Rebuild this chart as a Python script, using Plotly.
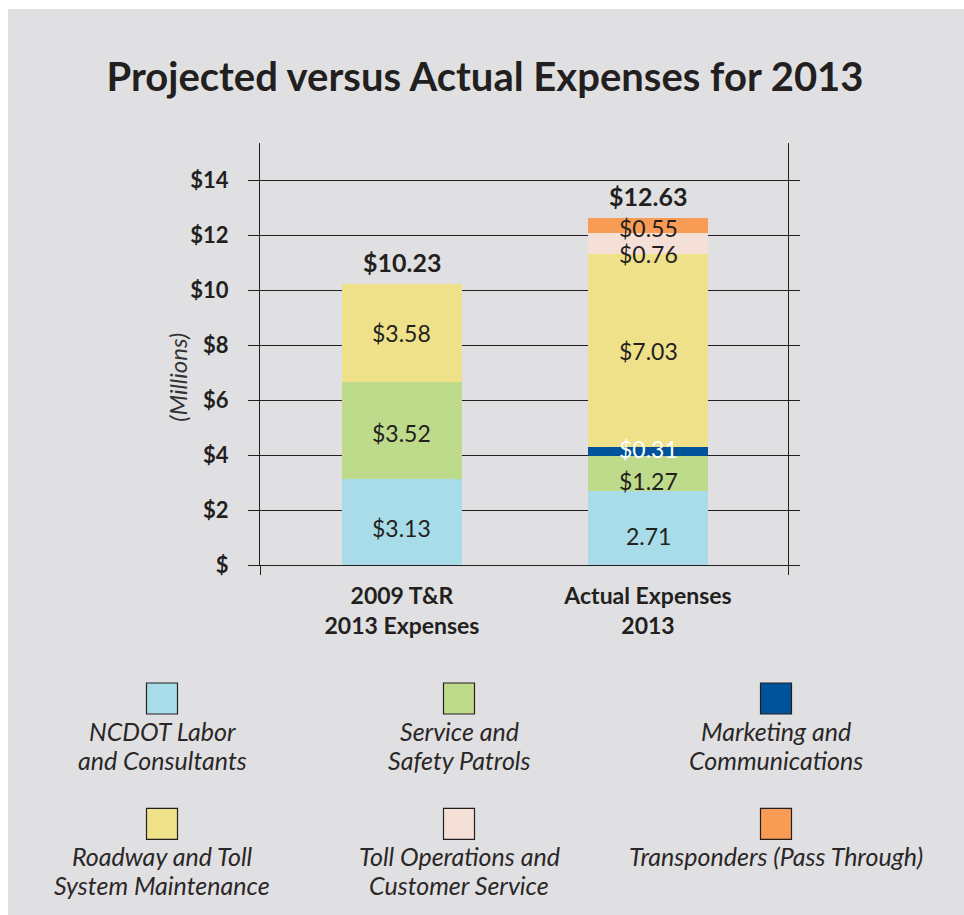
import plotly.graph_objects as go

# ---------------- data ----------------
bar_categories = ["2009 T&R<br>2013 Expenses", "Actual Expenses<br>2013"]
series_names = [
    "NCDOT Labor<br>and Consultants",
    "Service and<br>Safety Patrols",
    "Marketing and<br>Communications",
    "Roadway and Toll<br>System Maintenance",
    "Toll Operations and<br>Customer Service",
    "Transponders (Pass Through)",
]
projected_values = [3.13, 3.52, 0.0, 3.58, 0.0, 0.0]
actual_values = [2.71, 1.27, 0.31, 7.03, 0.76, 0.55]
projected_labels = ["$3.13", "$3.52", "", "$3.58", "", ""]
actual_labels = ["2.71", "$1.27", "$0.31", "$7.03", "$0.76", "$0.55"]
total_labels = ["$10.23", "$12.63"]
y_tick_values = [0, 2, 4, 6, 8, 10, 12, 14]
y_tick_labels = ["$", "$2", "$4", "$6", "$8", "$10", "$12", "$14"]

# ---------------- style ----------------
colors = ["#a7dce8", "#bedb8c", "#00529b", "#efe18a", "#f5e0d8", "#f89c55"]
label_colors = ["#231f20", "#231f20", "#ffffff", "#231f20", "#231f20", "#231f20"]
# small vertical nudges (px) of the segment labels, per series, per bar
label_nudge_projected = [-6, -2, 0, 0, 0, 0]
label_nudge_actual = [-8, -8, 3, 0, -10, -2]
INK = "#231f20"
BG = "#e0e0e2"
FONT = "Lato"
W = 964
REF_H = 915          # layout positions are expressed in these pixels
H = 930              # canvas height (the capture is squeezed to 915)
legend_col_x = [162, 459, 776]
legend_row_y = [697, 822]
legend_line_offset = 32
legend_line_step = 29

fig = go.Figure()

x_pos = [0, 1]
bases = [0.0, 0.0]
for i, name in enumerate(series_names):
    vals = [projected_values[i], actual_values[i]]
    labs = [projected_labels[i], actual_labels[i]]
    nudges = [label_nudge_projected[i], label_nudge_actual[i]]
    fig.add_trace(go.Bar(
        x=x_pos, y=vals,
        marker=dict(color=colors[i], line=dict(width=0)),
        width=0.488,
        name=name.replace("<br>", " "),
        showlegend=False,
        hoverinfo="skip",
    ))
    for b in range(2):
        if labs[b]:
            fig.add_annotation(x=x_pos[b], y=bases[b] + vals[b] / 2, xref="x", yref="y",
                               text=labs[b], showarrow=False, yanchor="middle",
                               yshift=nudges[b] * H / REF_H,
                               font=dict(family=FONT, size=23, color=label_colors[i]))
        bases[b] += vals[b]

# totals above bars
totals = [sum(projected_values), sum(actual_values)]
for xi, tot, lab in zip(x_pos, totals, total_labels):
    fig.add_annotation(x=xi, y=tot, xref="x", yref="y", text="<b>%s</b>" % lab,
                       showarrow=False, yanchor="bottom", yshift=5,
                       font=dict(family=FONT, size=25, color=INK))

# custom legend (squares above text)
for i, name in enumerate(series_names):
    cx = legend_col_x[i % 3]
    cy = legend_row_y[i // 3]
    fig.add_trace(go.Scatter(
        x=[cx], y=[cy], mode="markers",
        marker=dict(symbol="square", size=31, color=colors[i],
                    line=dict(color=INK, width=1.2)),
        xaxis="x2", yaxis="y2", showlegend=False, hoverinfo="skip",
    ))
    for j, line in enumerate(name.split("<br>")):
        fig.add_annotation(x=cx, y=cy + legend_line_offset + j * legend_line_step,
                           xref="x2", yref="y2",
                           text="<i>%s</i>" % line, showarrow=False,
                           yanchor="middle", xanchor="center",
                           font=dict(family=FONT, size=25, color="#2b2728"))

# background panel
fig.add_shape(type="rect", xref="paper", yref="paper",
              x0=8 / W, x1=1.01, y0=-0.02, y1=1 - 9 / REF_H,
              fillcolor=BG, line=dict(width=0), layer="below")

# y-axis title
fig.add_annotation(x=178 / W, y=1 - 377 / REF_H, xref="paper", yref="paper",
                   xanchor="center", yanchor="middle",
                   text="<i>(Millions)</i>", textangle=-90, showarrow=False,
                   font=dict(family=FONT, size=24, color="#333333"))

fig.update_layout(
    width=W, height=H, autosize=False,
    margin=dict(l=0, r=0, t=0, b=0),
    paper_bgcolor="white",
    plot_bgcolor="rgba(0,0,0,0)",
    barmode="stack",
    title=dict(text="<b>Projected versus Actual Expenses for 2013</b>",
               x=485 / W, xanchor="center", y=1 - 76 / REF_H, yanchor="middle",
               font=dict(family=FONT, size=40, color=INK)),
    xaxis=dict(
        domain=[260 / W, 788 / W],
        range=[-0.577, 1.569],
        tickvals=x_pos, ticktext=["<b>%s</b>" % c for c in bar_categories],
        tickfont=dict(family=FONT, size=23, color=INK),
        ticks="", showgrid=False, zeroline=False,
        showline=True, linecolor=INK, linewidth=1.3,
        minor=dict(tickvals=[-0.577, 1.569], ticks="outside", ticklen=9,
                   tickwidth=1.3, tickcolor=INK, showgrid=False),
        ticklabelstandoff=10,
        fixedrange=True,
    ),
    yaxis=dict(
        domain=[1 - 564 / REF_H, 1 - 143 / REF_H],
        range=[0, 15.35],
        tickvals=y_tick_values, ticktext=["<b>%s</b>" % t for t in y_tick_labels],
        tickfont=dict(family=FONT, size=22, color=INK),
        ticks="outside", ticklen=11, tickwidth=1.3, tickcolor=INK,
        showgrid=True, gridcolor=INK, gridwidth=1.3,
        showline=True, linecolor=INK, linewidth=1.3, mirror="ticks",
        zeroline=False, ticklabelstandoff=15,
        fixedrange=True,
    ),
    xaxis2=dict(domain=[0, 1], range=[0, W], visible=False, anchor="y2"),
    yaxis2=dict(domain=[0, 1 - 660 / REF_H], range=[REF_H, 660], visible=False, anchor="x2"),
    showlegend=False,
)

fig.write_html("out.html", config={"responsive": False})
